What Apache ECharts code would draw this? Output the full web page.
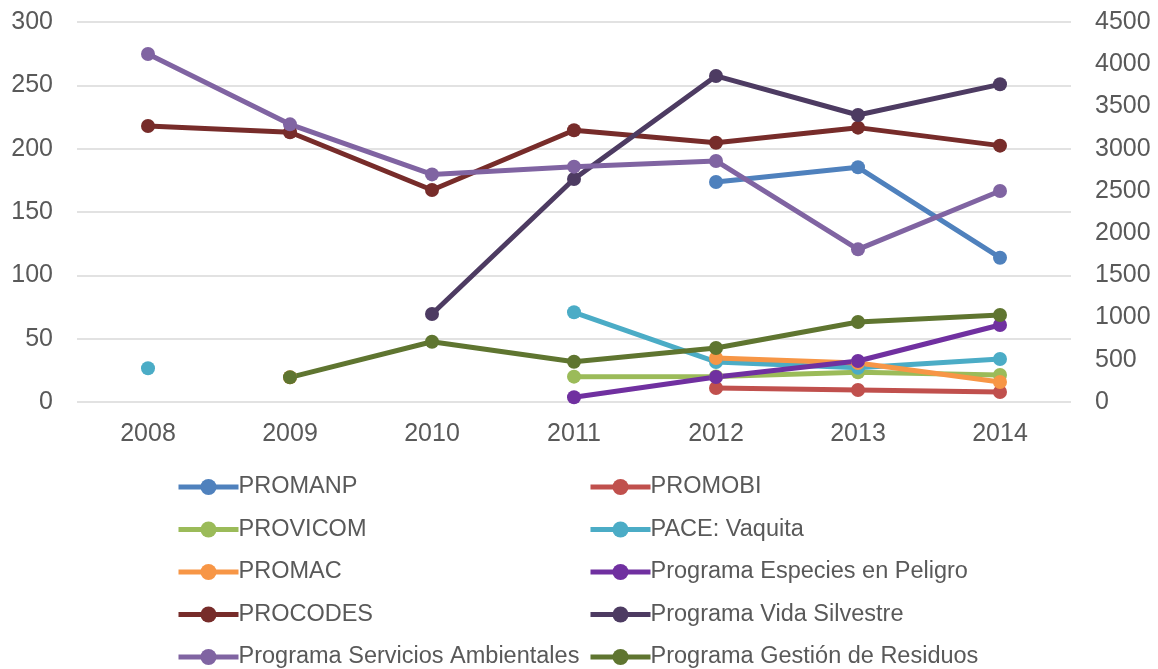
<!DOCTYPE html>
<html>
<head>
<meta charset="utf-8">
<script src="https://cdn.jsdelivr.net/npm/echarts@6/dist/echarts.min.js"></script>
<style>
  html, body { margin: 0; padding: 0; background: #fff; }
  #chart { width: 1158px; height: 669px; }
</style>
</head>
<body>
<div id="chart"></div>
<script>
var years = ['2008', '2009', '2010', '2011', '2012', '2013', '2014'];

// left axis
var promanp = [null, null, null, null, 173.7, 185.3, 113.9];
var promobi = [null, null, null, null, 11, 9.5, 7.9];
var provicom = [null, null, null, 20, 20.2, 23.5, 21.3];
var paceVaquita = [26.6, null, null, 70.8, 31.6, 27, 34];
var promac = [null, 19.5, null, null, 34.7, 30.8, 15.8];
var especies = [null, null, null, 3.7, 19.7, 32.4, 60.8];
var procodes = [217.9, 213, 167.4, 214.5, 204.7, 216.6, 202.4];
var servicios = [274.7, 219.2, 179.7, 185.8, 190.3, 120.5, 166.6];
var residuos = [null, 19.5, 47.6, 31.8, 42.6, 63.2, 68.7];
// right axis
var vidaSilvestre = [null, null, 1042, 2641, 3861, 3399, 3762];

var leftTicks = [0, 300, 50];
var rightTicks = [0, 4500, 500];

var textColor = '#595959';
var fontFamily = 'Liberation Sans, Arial, sans-serif';

function mkLine(name, data, color, axisIdx) {
  return {
    name: name,
    type: 'line',
    data: data,
    yAxisIndex: axisIdx || 0,
    connectNulls: false,
    symbol: 'circle',
    symbolSize: 14,
    lineStyle: { width: 5, color: color },
    itemStyle: { color: color },
    animation: false
  };
}

var chart = echarts.init(document.getElementById('chart'));

var legendBase = {
  orient: 'vertical',
  top: 475,
  height: 200,
  padding: 0,
  itemWidth: 60,
  itemHeight: 20,
  itemGap: 18.5,
  lineStyle: { width: 5 },
  textStyle: { color: textColor, fontSize: 23.5, fontFamily: fontFamily, padding: [0, 0, 0, -5] }
};

chart.setOption({
  backgroundColor: '#fff',
  textStyle: { fontFamily: fontFamily },
  grid: { left: 77, right: 87, top: 22, bottom: 267 },
  legend: [
    Object.assign({}, legendBase, {
      left: 176,
      data: ['PROMANP', 'PROVICOM', 'PROMAC', 'PROCODES', 'Programa Servicios Ambientales']
    }),
    Object.assign({}, legendBase, {
      left: 588,
      data: ['PROMOBI', 'PACE: Vaquita', 'Programa Especies en Peligro', 'Programa Vida Silvestre', 'Programa Gestión de Residuos']
    })
  ],
  xAxis: {
    type: 'category',
    data: years,
    boundaryGap: true,
    axisLine: { show: false },
    axisTick: { show: false },
    axisLabel: { color: textColor, fontSize: 25, margin: 20 }
  },
  yAxis: [
    {
      type: 'value',
      min: leftTicks[0], max: leftTicks[1], interval: leftTicks[2],
      axisLine: { show: false },
      axisTick: { show: false },
      axisLabel: { color: textColor, fontSize: 25, margin: 24 },
      splitLine: { lineStyle: { color: '#d9d9d9', width: 1.5 } }
    },
    {
      type: 'value',
      position: 'right',
      min: rightTicks[0], max: rightTicks[1], interval: rightTicks[2],
      axisLine: { show: false },
      axisTick: { show: false },
      axisLabel: { color: textColor, fontSize: 25, margin: 24, formatter: function (v) { return String(v); } },
      splitLine: { show: false }
    }
  ],
  series: [
    mkLine('PROMANP', promanp, '#4f81bd'),
    mkLine('PROMOBI', promobi, '#c0504d'),
    mkLine('PROVICOM', provicom, '#9bbb59'),
    mkLine('PACE: Vaquita', paceVaquita, '#4bacc6'),
    mkLine('PROMAC', promac, '#f79646'),
    mkLine('Programa Especies en Peligro', especies, '#7030a0'),
    mkLine('PROCODES', procodes, '#772c2a'),
    mkLine('Programa Vida Silvestre', vidaSilvestre, '#4d3b62', 1),
    mkLine('Programa Servicios Ambientales', servicios, '#8064a2'),
    mkLine('Programa Gestión de Residuos', residuos, '#5f7530')
  ]
});
</script>
</body>
</html>
